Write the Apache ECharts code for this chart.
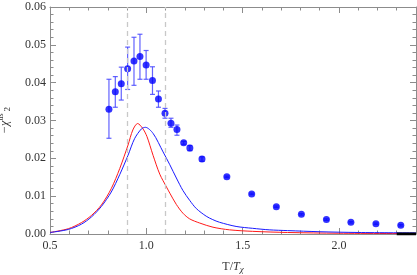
<!DOCTYPE html>
<html><head><meta charset="utf-8">
<script src="https://cdn.jsdelivr.net/npm/echarts@6/dist/echarts.min.js"></script>
<style>html,body{margin:0;padding:0;background:#fff}#c{width:417px;height:275px}</style>
</head><body><div id="c"></div>
<script>
// Data points (lattice) with error bars
var ptT   = [0.806,0.839,0.870,0.903,0.936,0.967,0.999,1.032,1.063,1.097,1.128,1.159,1.194,1.226,1.289,1.418,1.547,1.675,1.805,1.935,2.062,2.192,2.321];
var ptV   = [0.0330,0.0376,0.0397,0.0437,0.0457,0.0469,0.0447,0.0406,0.0357,0.0319,0.0293,0.0276,0.0241,0.0227,0.0198,0.0151,0.0106,0.0072,0.0052,0.0038,0.0031,0.0027,0.0023];
var ptLo  = [0.0253,0.0335,0.0354,0.0382,0.0393,0.0409,0.0409,0.0369,0.0335,0.0306,0.0282,0.0261,0.0237,0.0220,0.0192,0.0149,0.0104,0.0070,0.0050,0.0036,0.0029,0.0025,0.0021];
var ptHi  = [0.0409,0.0416,0.0441,0.0494,0.0520,0.0528,0.0485,0.0442,0.0378,0.0332,0.0306,0.0288,0.0245,0.0234,0.0204,0.0153,0.0108,0.0074,0.0054,0.0040,0.0033,0.0029,0.0025];
// Red curve
var redT = [0.50,0.595,0.663,0.715,0.767,0.818,0.862,0.905,0.930,0.955,0.980,1.003,1.035,1.070,1.105,1.122,1.156,1.190,1.225,1.277,1.346,1.432,1.552,1.733,2.00,2.40];
var redV = [0.0004,0.0014,0.0030,0.0049,0.0077,0.0120,0.0173,0.0235,0.0275,0.0292,0.0280,0.0258,0.0208,0.0158,0.0124,0.0108,0.0078,0.0055,0.0040,0.0029,0.0018,0.0011,0.0007,0.0004,0.0002,0.0001];
// Blue curve
var blueT = [0.50,0.595,0.663,0.715,0.767,0.818,0.862,0.905,0.939,0.975,0.995,1.035,1.087,1.122,1.156,1.190,1.225,1.260,1.311,1.345,1.380,1.466,1.552,1.638,1.733,1.90,2.10,2.40];
var blueV = [0.0004,0.0012,0.0026,0.0045,0.0073,0.0111,0.0157,0.0208,0.0252,0.0278,0.0282,0.0266,0.0217,0.0183,0.0148,0.0115,0.0089,0.0067,0.0047,0.0038,0.0031,0.0020,0.0015,0.0011,0.0009,0.0006,0.0004,0.0003];
// Dashed vertical guide lines
var dashedT = [0.9, 1.1];
// Black segment on the axis at the right end
var blackSegT = [2.3, 2.4];
var blackSegV = [0, 0];
// Axis ranges
var xMin = 0.5, xMax = 2.4, xStep = 0.5;
var yMin = 0, yMax = 0.06, yStep = 0.01;

function zip(a, b) { return a.map(function (v, i) { return [v, b[i]]; }); }

var chart = echarts.init(document.getElementById('c'), null, {renderer: 'canvas'});
var frameColor = '#8c8c8c';
var font = '"Liberation Serif", "Times New Roman", serif';
function axisCommon(extra) {
  var o = {
    axisLine: {show: true, onZero: false, lineStyle: {color: frameColor, width: 1}},
    axisTick: {show: true, inside: true, length: 6, lineStyle: {color: frameColor}},
    minorTick: {show: true, splitNumber: 5, length: 3.5, lineStyle: {color: frameColor}},
    splitLine: {show: false},
    minorSplitLine: {show: false}
  };
  for (var k in extra) o[k] = extra[k];
  return o;
}

var option = {
  animation: false,
  grid: {left: 50, right: 1, top: 7, bottom: 41, containLabel: false, outerBoundsMode: 'none'},
  xAxis: [
    axisCommon({type: 'value', min: xMin, max: xMax, interval: xStep, position: 'bottom',
      name: '{n|T/}{i|T}{s|χ}', nameLocation: 'middle', nameGap: 25,
      nameTextStyle: {fontFamily: font, fontSize: 12, color: '#333',
        rich: {n: {fontFamily: font, fontSize: 12, color: '#333'},
               i: {fontFamily: font, fontSize: 12, fontStyle: 'italic', color: '#333'},
               s: {fontFamily: font, fontSize: 9, fontStyle: 'italic', color: '#333', padding: [6, 0, 0, 0]}}},
      axisLabel: {show: true, margin: 6, fontFamily: font, fontSize: 12, color: '#333', showMaxLabel: false,
        formatter: function (v) { return v.toFixed(1); }}}),
    axisCommon({type: 'value', min: xMin, max: xMax, interval: xStep, position: 'top',
      axisLabel: {show: false}})
  ],
  yAxis: [
    axisCommon({type: 'value', min: yMin, max: yMax, interval: yStep, position: 'left',
      name: '{n|−χ}{u|us}{d|2}', nameLocation: 'middle', nameGap: 37, nameRotate: 90,
      nameTextStyle: {fontFamily: font, fontSize: 12, color: '#333',
        rich: {n: {fontFamily: font, fontSize: 12, fontStyle: 'italic', color: '#333'},
               u: {fontFamily: font, fontSize: 8, color: '#333', padding: [0, 0, 8, 0]},
               d: {fontFamily: font, fontSize: 9, color: '#333', padding: [6, 0, 0, 2]}}},
      axisLabel: {show: true, margin: 4, fontFamily: font, fontSize: 12, color: '#333',
        formatter: function (v) { return v.toFixed(2); }}}),
    axisCommon({type: 'value', min: yMin, max: yMax, interval: yStep, position: 'right',
      axisLabel: {show: false}})
  ],
  series: [
    {type: 'line', data: zip(dashedT, [0, 0]), symbol: 'none', lineStyle: {opacity: 0}, silent: true,
      markLine: {silent: true, symbol: 'none', label: {show: false},
        lineStyle: {color: '#c8c8c8', type: [5, 4], width: 1.3},
        data: dashedT.map(function (t) { return {xAxis: t}; })}},
    {type: 'line', data: zip(redT, redV), symbol: 'none', smooth: 0.3,
      lineStyle: {color: '#ff1a1a', width: 1}},
    {type: 'line', data: zip(blueT, blueV), symbol: 'none', smooth: 0.3,
      lineStyle: {color: '#1a1aff', width: 1}},
    {type: 'line', data: zip(blackSegT, blackSegV), symbol: 'none', lineStyle: {color: '#000', width: 3}},
    {type: 'custom', data: ptT.map(function (t, i) { return [t, ptLo[i], ptHi[i]]; }),
      renderItem: function (params, api) {
        var lo = api.coord([api.value(0), api.value(1)]);
        var hi = api.coord([api.value(0), api.value(2)]);
        var c = 2.5;
        var st = {stroke: '#4646ff', lineWidth: 1.2, opacity: 0.85};
        return {type: 'group', children: [
          {type: 'line', shape: {x1: lo[0], y1: lo[1], x2: hi[0], y2: hi[1]}, style: st},
          {type: 'line', shape: {x1: lo[0] - c, y1: lo[1], x2: lo[0] + c, y2: lo[1]}, style: st},
          {type: 'line', shape: {x1: hi[0] - c, y1: hi[1], x2: hi[0] + c, y2: hi[1]}, style: st}
        ]};
      }, z: 3},
    {type: 'scatter', data: zip(ptT, ptV), symbol: 'circle', symbolSize: 7,
      itemStyle: {color: '#0000ff'}, z: 4}
  ]
};
chart.setOption(option);
</script></body></html>
